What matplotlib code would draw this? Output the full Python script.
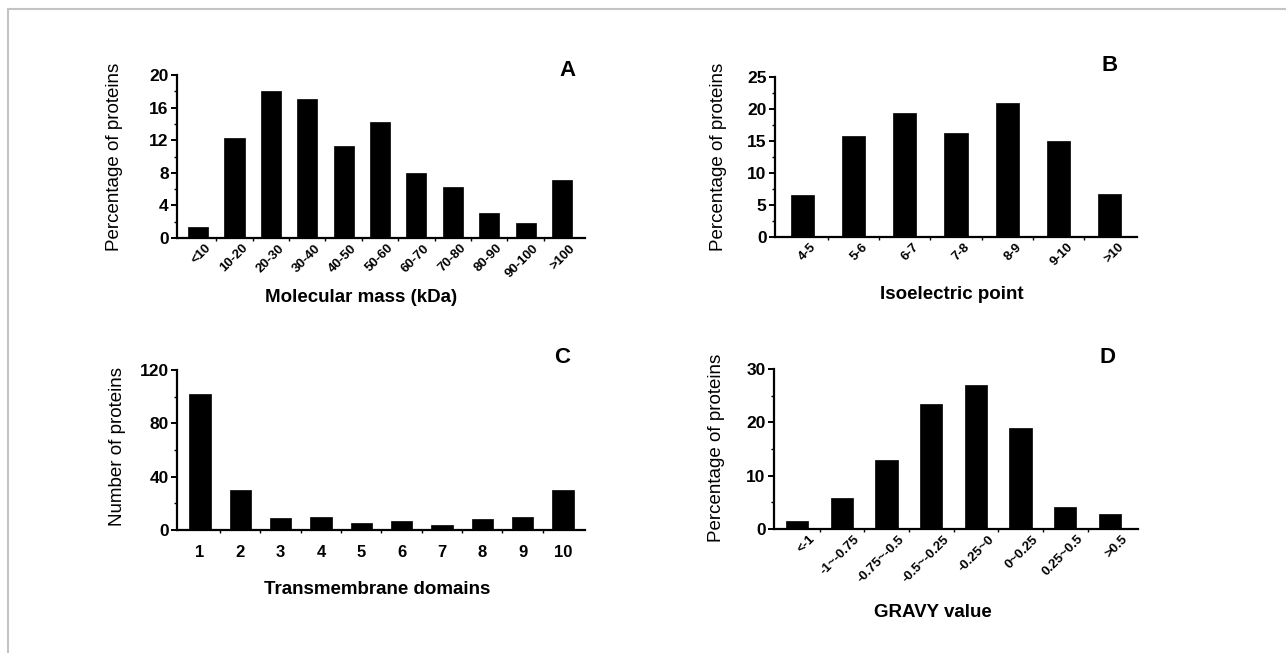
from __future__ import annotations

import matplotlib

matplotlib.use("Agg")
import matplotlib.pyplot as plt
import matplotlib.transforms as mtransforms
import numpy as np
from matplotlib.lines import Line2D
from matplotlib.ticker import MultipleLocator


MASS_LABELS = ["<10", "10-20", "20-30", "30-40", "40-50", "50-60", "60-70", "70-80", "80-90", "90-100", ">100"]
MASS_PCT = [1.4, 12.3, 18.0, 17.0, 11.3, 14.2, 8.0, 6.2, 3.1, 1.8, 7.1]

PI_LABELS = ["4-5", "5-6", "6-7", "7-8", "8-9", "9-10", ">10"]
PI_PCT = [6.5, 15.8, 19.3, 16.2, 20.9, 15.0, 6.7]

TM_LABELS = ["1", "2", "3", "4", "5", "6", "7", "8", "9", "10"]
TM_COUNT = [102, 30, 9, 10, 5, 7, 4, 8, 10, 30]

GRAVY_LABELS = ["<-1", "-1~-0.75", "-0.75~-0.5", "-0.5~-0.25", "-0.25~0", "0~0.25", "0.25~0.5", ">0.5"]
GRAVY_PCT = [1.5, 5.9, 13.0, 23.4, 27.0, 19.0, 4.1, 2.9]

W, H = 1286, 653


def axes_rect(left: float, right: float, top: float, bottom: float) -> list[float]:
    # pixel box (y from top) -> figure fraction
    return [left / W, 1 - bottom / H, (right - left) / W, (bottom - top) / H]


def draw_panel(fig, rect, labels, values, ymax, ystep, xlim, width, xlabel, ylabel,
               letter, xlabel_xy, ylabel_xy, letter_xy, rotate=True, shift=8):
    ax = fig.add_axes(rect)
    x = np.arange(len(values))
    ax.bar(x, values, width=width, color="black", edgecolor="black", linewidth=0.5)
    ax.set_xlim(*xlim)
    ax.set_ylim(0, ymax)
    ax.yaxis.set_major_locator(MultipleLocator(ystep))
    ax.yaxis.set_minor_locator(MultipleLocator(ystep / 2))
    ax.set_xticks(x)
    ax.set_xticks(x[:-1] + 0.5, minor=True)
    for side in ("top", "right"):
        ax.spines[side].set_visible(False)
    for side in ("left", "bottom"):
        ax.spines[side].set_linewidth(1.6)
    ax.tick_params(axis="y", which="major", length=4, width=1.4, labelsize=12.5, pad=2)
    ax.tick_params(axis="y", which="minor", length=2.5, width=1.0)
    ax.tick_params(axis="x", which="major", length=0)
    ax.tick_params(axis="x", which="minor", length=2.5, width=1.0)
    for t in ax.get_yticklabels():
        t.set_fontweight("bold")

    if rotate:
        ax.tick_params(axis="x", which="major", pad=3)
        ax.set_xticklabels(labels, rotation=45, ha="right", va="top",
                           rotation_mode="anchor", fontsize=9.5, fontweight="bold")
        offset = mtransforms.ScaledTranslation(shift / 100, 0, fig.dpi_scale_trans)
        for t in ax.get_xticklabels():
            t.set_transform(t.get_transform() + offset)
    else:
        ax.tick_params(axis="x", which="major", pad=11)
        ax.set_xticklabels(labels, fontsize=12, fontweight="bold")

    ax.set_xlabel(xlabel, fontsize=13.5, fontweight="bold", va="center")
    ax.xaxis.set_label_coords(*xlabel_xy)
    ax.set_ylabel(ylabel, fontsize=13.5, va="center", ha="center")
    ax.yaxis.set_label_coords(*ylabel_xy)
    ax.text(*letter_xy, letter, transform=ax.transAxes, fontsize=16,
            fontweight="bold", ha="center", va="center")
    return ax


def main() -> None:
    plt.rcParams["font.family"] = ["Liberation Sans", "DejaVu Sans"]
    fig = plt.figure(figsize=(W / 100, H / 100), dpi=100)

    # thin grey frame on top and left only
    fig.add_artist(Line2D([8 / W, 1], [1 - 9 / H, 1 - 9 / H], color="#c4c4c4", lw=1.5))
    fig.add_artist(Line2D([8 / W, 8 / W], [0, 1 - 9 / H], color="#c4c4c4", lw=1.5))

    draw_panel(fig, axes_rect(177, 585, 75, 238), MASS_LABELS, MASS_PCT, 20, 4,
               (-0.58, 10.63), 0.55, "Molecular mass (kDa)", "Percentage of proteins", "A",
               (0.451, -0.362), (-0.152, 0.497), (0.956, 1.03), shift=7)
    draw_panel(fig, axes_rect(775, 1137, 77, 237), PI_LABELS, PI_PCT, 25, 5,
               (-0.53, 6.53), 0.45, "Isoelectric point", "Percentage of proteins", "B",
               (0.489, -0.3625), (-0.157, 0.5), (0.925, 1.07), shift=8)
    draw_panel(fig, axes_rect(177, 585, 370, 530), TM_LABELS, TM_COUNT, 120, 40,
               (-0.57, 9.55), 0.53, "Transmembrane domains", "Number of proteins", "C",
               (0.49, -0.375), (-0.147, 0.52), (0.944, 1.075), rotate=False)
    draw_panel(fig, axes_rect(774, 1138, 369, 529), GRAVY_LABELS, GRAVY_PCT, 30, 10,
               (-0.52, 7.63), 0.5, "GRAVY value", "Percentage of proteins", "D",
               (0.437, -0.519), (-0.157, 0.506), (0.915, 1.075), shift=12)

    fig.savefig("out.png", dpi=100)
    plt.close(fig)


if __name__ == "__main__":
    main()
